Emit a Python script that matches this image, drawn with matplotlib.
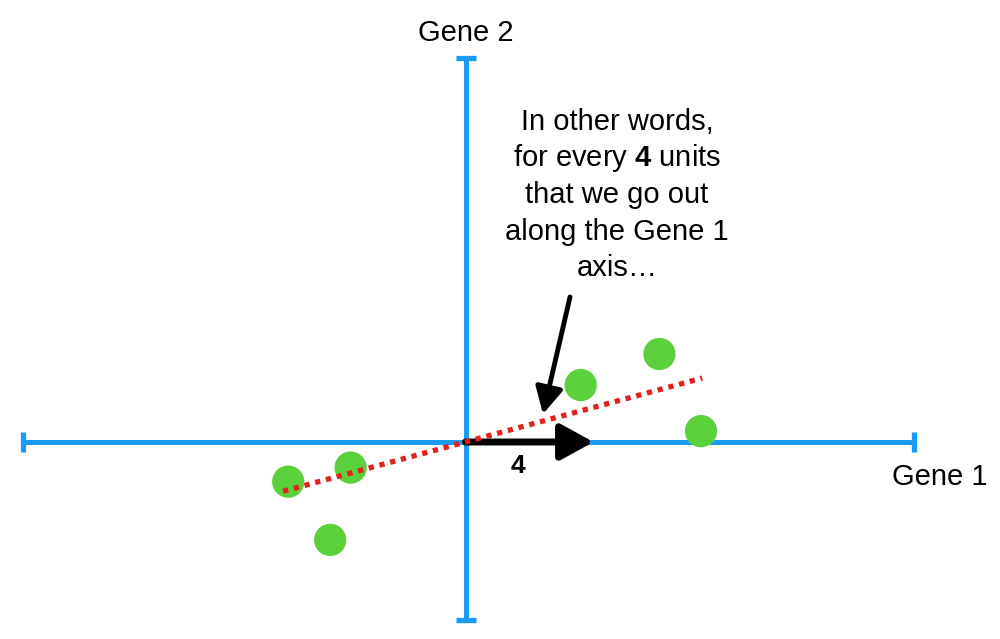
import matplotlib
matplotlib.use("Agg")
import matplotlib.pyplot as plt
import numpy as np

plt.rcParams["font.family"] = ["Liberation Sans", "DejaVu Sans"]
plt.rcParams["mathtext.fontset"] = "custom"
plt.rcParams["mathtext.rm"] = "Liberation Sans"
plt.rcParams["mathtext.bf"] = "Liberation Sans:bold"

BLUE = "#1A9BF7"
GREEN = "#5AD13B"
RED = "#E3201B"

# data in gene units
gene1 = [-5.54, -3.59, -4.23, 3.60, 6.06, 7.36]
gene2 = [-1.24, -0.80, -3.06, 1.78, 2.75, 0.34]
fit_x = [-5.7, 7.4]
slope = 0.27
run_len = 4
axis_x = [-13.84, 14.0]
axis_y = [-5.56, 12.0]

# pixel layout of the canvas
S = 32.0
OX, OY = 465.5, 442.0
W, H = 1000, 639


def px(x, y):
    return ((x - OX) / S, (OY - y) / S)


fig = plt.figure(figsize=(W / 100, H / 100), dpi=100)
ax = fig.add_axes([0, 0, 1, 1])
ax.set_xlim(-OX / S, (W - OX) / S)
ax.set_ylim(-(H - OY) / S, OY / S)
ax.axis("off")

# blue axes with end caps
ax.plot(axis_x, [0, 0], color=BLUE, lw=3.6, solid_capstyle="butt", zorder=1)
ax.plot([0, 0], axis_y, color=BLUE, lw=3.6, solid_capstyle="butt", zorder=1)
ax.plot(axis_x, [0, 0], ls="none", marker="|", ms=15, mew=3.8, color=BLUE, zorder=1)
ax.plot([0, 0], axis_y, ls="none", marker="_", ms=15, mew=3.8, color=BLUE, zorder=1)

ax.scatter(gene1, gene2, s=540, color=GREEN, edgecolors="none", zorder=2)

# run of 4 units along gene 1
ax.annotate("", xy=(run_len, 0), xytext=(0, 0),
            arrowprops=dict(arrowstyle="-|>,head_length=1.0,head_width=0.55",
                            lw=5, color="black", mutation_scale=20,
                            shrinkA=0, shrinkB=0), zorder=3)
ax.text(run_len / 2 - 0.36, -0.75, str(run_len), fontsize=19, fontweight="bold",
        ha="center", va="center", zorder=3)

fx = np.array(fit_x)
ax.plot(fx, slope * fx, color=RED, lw=3.8, ls=(0, (1, 1.1)), zorder=4)

# annotation
lines = ["In other words,", "for every $\\mathbf{4}$ units", "that we go out",
         "along the Gene 1", "axis…"]
baselines = [130, 166.5, 203, 239.5, 276]
for txt, yb in zip(lines, baselines):
    ax.text(*px(617, yb), txt, fontsize=21, ha="center", va="baseline", zorder=5)

ax.annotate("", xy=px(543, 414), xytext=px(570, 297),
            arrowprops=dict(arrowstyle="-|>,head_length=0.8,head_width=0.42",
                            lw=3.5, color="black", mutation_scale=20,
                            shrinkA=0, shrinkB=0), zorder=5)

ax.text(*px(465.5, 41), "Gene 2", fontsize=21, ha="center", va="baseline")
ax.text(*px(940, 485), "Gene 1", fontsize=21, ha="center", va="baseline")

fig.savefig("out.png", dpi=100, facecolor="white")
